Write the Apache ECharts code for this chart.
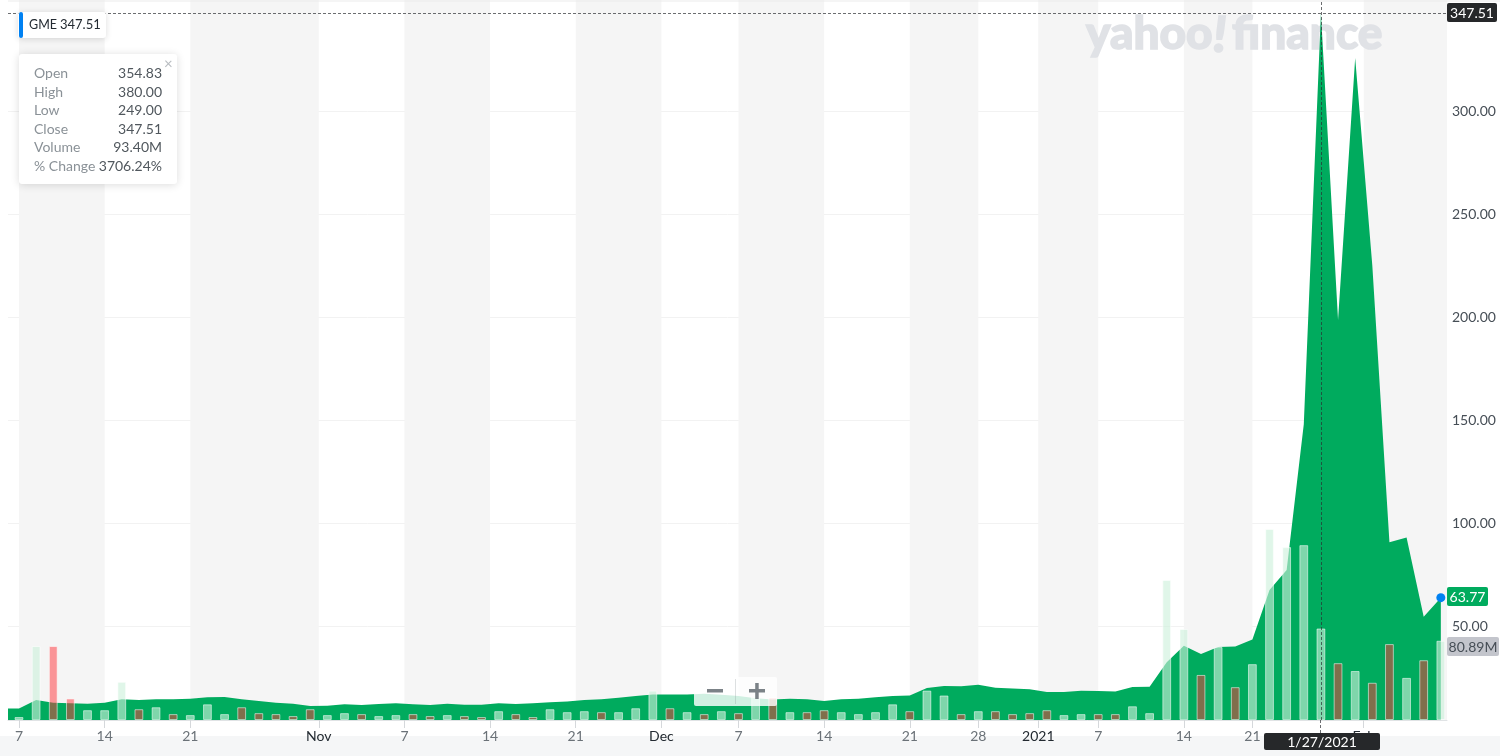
<!DOCTYPE html>
<html><head><meta charset="utf-8">
<style>html,body{margin:0;padding:0;background:#fff}#c{width:1500px;height:756px}</style>
<script src="https://cdn.jsdelivr.net/npm/echarts@6/dist/echarts.min.js"></script>
</head><body><div id="c"></div>
<script>
// Trading-day index 0 = 7 Oct 2020 ... 83 = 5 Feb 2021
const closePrices = [10.0,14.1,12.8,12.5,12.3,12.8,14.4,14.1,14.4,14.4,14.7,15.4,15.5,14.4,13.6,12.8,12.3,11.2,11.3,12,11.7,12.1,12.5,
 12,11.7,12.3,11.8,11.8,12.5,12.1,12.5,13,13.3,14.1,14.4,15.2,16,16.8,16.7,16.7,17.1,16.6,16,14.9,14.3,14.7,
 14.4,13.6,14.4,14.7,15.4,16,16.3,19.9,20.9,20.7,21.5,20,19.7,19.3,18,18,18.6,18.4,18.2,20.4,20.5,
 32.4,40.4,36.4,39.8,40,43.5,67.5,77.2,148,347.51,198.5,325.7,225,90.6,93,54.5,63.77];
const volumes = [3,75.5,75.5,22,10,10,39,11,13,6,5,16,6,13,7,6,4,11,5,7,6,4,5,
 6,4,5,4,3,9,6,3,11,8,9,8,8,12,30,12,8,6,9,7,25,23,8,
 8,10,8,6,8,16,9,30,25,6,9,9,6,7,10,5,6,6,6,14,7,
 143,93,46,74.5,33.5,57,195,176.5,178.5,93.4,58,50,38,77.5,43,61,80.89];
// 1 = close below the previous close (red), 0 = up (pale)
const downFlags = [0,0,1,1,0,0,0,1,0,1,0,0,0,1,1,1,1,1,0,0,1,0,0,
 1,1,0,1,1,0,1,1,0,0,0,1,0,0,0,1,0,1,0,1,0,1,0,
 1,1,0,0,0,0,1,0,0,1,0,1,1,1,1,0,0,1,1,0,0,
 0,0,1,0,1,0,0,0,0,0,1,0,1,1,0,1,0];
const tickPositions = [0,5,10,17.5,22.5,27.5,32.5,37.5,42,47,52,56,59.5,63,68,72,78.5];
const tickLabels = ['7','14','21','Nov','7','14','21','Dec','7','14','21','28','2021','7','14','21','Feb'];
const priceTicks = [50,100,150,200,250,300];

const FONT = 'Lato, "Open Sans", sans-serif';
const GREEN = '#00ab5e';
const xMin = -0.642, xMax = 83.36;
const labelByTick = new Map(tickPositions.map((p,i)=>[p,tickLabels[i]]));
const monthLabels = new Set(['Nov','Dec','2021','Feb']);

// alternating week/month shading between consecutive ticks, starting at the first tick
const bandEdges = [...tickPositions, xMax];
const bands = [];
for (let i = 0; i < bandEdges.length - 1; i += 2) bands.push([{xAxis: bandEdges[i]}, {xAxis: bandEdges[i+1]}]);

const areaData = [[xMin, closePrices[0]], ...closePrices.map((v,i)=>[i,v])];
const upBars = [], downBars = [];
volumes.forEach((v,i)=>{ (downFlags[i]?downBars:upBars).push([i,v]); });

const chart = echarts.init(document.getElementById('c'), null, {renderer:'canvas'});
const barStyleBase = {borderWidth:1, borderColor:'rgba(255,255,255,0.55)'};
const wm = {fontFamily:'Lato, sans-serif', fontWeight:900, fontSize:46, fill:'#e0e2e6', stroke:'#e0e2e6', lineWidth:1.5};
chart.setOption({
  animation:false,
  grid:{left:8, right:53, top:0, bottom:36, containLabel:false},
  xAxis:{type:'value', min:xMin, max:xMax, splitLine:{show:false},
    axisLine:{show:true, onZero:false, lineStyle:{color:'#e0e3e5', width:1}},
    axisTick:{show:true, customValues:tickPositions, length:8, lineStyle:{color:'#d5d8db'}},
    axisLabel:{show:true, customValues:tickPositions, margin:9, fontFamily:FONT, fontSize:14,
      formatter:v=>{const t=labelByTick.get(v)||''; return monthLabels.has(t)?'{m|'+t+'}':'{d|'+t+'}';},
      rich:{m:{color:'#232a31',fontFamily:FONT,fontSize:14},d:{color:'#6b7278',fontFamily:FONT,fontSize:14}}}},
  yAxis:[
   {type:'value', position:'right', min:4.37, max:353.9,
    axisLine:{show:true, lineStyle:{color:'#e0e3e5'}},
    axisTick:{show:true, customValues:priceTicks, length:4, lineStyle:{color:'#d5d8db'}},
    axisLabel:{show:true, customValues:priceTicks, margin:5, color:'#464e56', fontFamily:FONT, fontSize:14, padding:[2,0,0,0],
      formatter:v=>v.toFixed(2)},
    splitLine:{show:true, lineStyle:{color:'#f2f2f2', width:1}}},
   {type:'value', min:0, max:735, show:false, splitLine:{show:false}}
  ],
  series:[
   {type:'line', name:'Close', yAxisIndex:0, data:areaData, symbol:'none', z:3, clip:true, silent:true,
    lineStyle:{width:0}, areaStyle:{color:GREEN, opacity:1, origin:'start'},
    markArea:{silent:true, z:1, itemStyle:{color:'#f5f5f5'}, data:bands},
    markPoint:{silent:true, symbol:'circle', symbolSize:9, itemStyle:{color:'#0081f2'}, z:9, label:{show:false},
      data:[{coord:[83, closePrices[83]]}]},
    markLine:{silent:true, symbol:'none', z:8, label:{show:false},
      lineStyle:{color:'#2c2f33', type:[3,2], width:1, opacity:.7},
      data:[{yAxis:closePrices[76]},{xAxis:76}]}},
   {type:'bar', name:'Up volume', yAxisIndex:1, stack:'vol', data:upBars, barWidth:8.8, z:4, silent:true,
    itemStyle:{color:'rgba(205,240,220,0.62)', ...barStyleBase}},
   {type:'bar', name:'Down volume', yAxisIndex:1, stack:'vol', data:downBars, barWidth:8.8, z:4, silent:true,
    itemStyle:{color:'rgba(255,51,58,0.5)', ...barStyleBase}}
  ],
  graphic:[
   {type:'rect', z:-1, silent:true, shape:{x:0,y:736,width:1500,height:20}, style:{fill:'#f5f6f7'}},
   {type:'line', z:100, silent:true, shape:{x1:8,y1:1,x2:1500,y2:1}, style:{stroke:'#ebebeb',lineWidth:1}},
   {type:'text', z:2, silent:true, x:1086, y:11, style:{text:'yahoo', ...wm}},
   {type:'text', z:2, silent:true, x:1213, y:11, style:{text:'!', ...wm, fontStyle:'italic', fontSize:50}},
   {type:'text', z:2, silent:true, x:1232, y:11, style:{text:'finance', ...wm}},
   // legend chip
   {type:'rect', z:100, silent:true, shape:{x:18,y:12,width:88,height:26,r:3}, style:{fill:'#fff',shadowBlur:6,shadowColor:'rgba(0,0,0,0.14)',shadowOffsetY:1}},
   {type:'rect', z:101, silent:true, shape:{x:19,y:12,width:4,height:26,r:2}, style:{fill:'#0081f2'}},
   {type:'text', z:101, silent:true, x:29, y:18.5, style:{text:'GME',fontFamily:FONT,fontSize:12.5,fill:'#232a31'}},
   {type:'text', z:101, silent:true, x:60, y:18.5, style:{text:'347.51',fontFamily:FONT,fontSize:13,fill:'#232a31'}},
   // OHLC box
   {type:'rect', z:100, silent:true, shape:{x:19,y:54,width:158,height:130,r:3}, style:{fill:'#fff',shadowBlur:8,shadowColor:'rgba(0,0,0,0.14)',shadowOffsetY:1}},
   {type:'text', z:101, silent:true, x:164, y:57, style:{text:'×',fontFamily:FONT,fontSize:15,fill:'#b8bcc0'}},
   ...[['Open','354.83'],['High','380.00'],['Low','249.00'],['Close','347.51'],['Volume','93.40M'],['% Change','3706.24%']].flatMap((r,i)=>[
     {type:'text', z:101, silent:true, x:34, y:66.5+i*18.5, style:{text:r[0],fontFamily:FONT,fontSize:14,fill:'#8a9197'}},
     {type:'text', z:101, silent:true, x:162, y:66.5+i*18.5, style:{text:r[1],align:'right',fontFamily:FONT,fontSize:14,fill:'#50575d'}}
   ]),
   // zoom control
   {type:'rect', z:50, silent:true, shape:{x:694,y:677,width:83,height:29,r:2}, style:{fill:'rgba(255,255,255,0.82)'}},
   {type:'line', z:51, silent:true, shape:{x1:735.5,y1:679,x2:735.5,y2:704}, style:{stroke:'rgba(120,130,135,0.25)',lineWidth:1}},
   {type:'rect', z:51, silent:true, shape:{x:707,y:689,width:16,height:3.5}, style:{fill:'#7b8287'}},
   {type:'rect', z:51, silent:true, shape:{x:749,y:689,width:16,height:3.5}, style:{fill:'#7b8287'}},
   {type:'rect', z:51, silent:true, shape:{x:755.2,y:683,width:3.5,height:16}, style:{fill:'#7b8287'}},
   // axis pointer labels
   {type:'line', z:52, silent:true, shape:{x1:1320.5,y1:720,x2:1320.5,y2:733}, style:{stroke:'#2c2f33',lineDash:[3,2],lineWidth:1,opacity:.7}},
   {type:'rect', z:60, silent:true, shape:{x:1447,y:3,width:50,height:19,r:2}, style:{fill:'#26282a'}},
   {type:'text', z:61, silent:true, x:1472, y:13, style:{text:'347.51',align:'center',verticalAlign:'middle',fontFamily:FONT,fontSize:14,fill:'#fff'}},
   {type:'rect', z:60, silent:true, shape:{x:1264,y:733,width:116,height:17,r:2}, style:{fill:'#26282a'}},
   {type:'text', z:61, silent:true, x:1322, y:742, style:{text:'1/27/2021',align:'center',verticalAlign:'middle',fontFamily:FONT,fontSize:14,fill:'#fff'}},
   {type:'rect', z:60, silent:true, shape:{x:1447,y:587,width:41,height:19,r:2}, style:{fill:GREEN}},
   {type:'text', z:61, silent:true, x:1467.5, y:597, style:{text:'63.77',align:'center',verticalAlign:'middle',fontFamily:FONT,fontSize:14,fill:'#fff'}},
   {type:'rect', z:60, silent:true, shape:{x:1447,y:637,width:52,height:19,r:2}, style:{fill:'#c3c5cc'}},
   {type:'text', z:61, silent:true, x:1473, y:647, style:{text:'80.89M',align:'center',verticalAlign:'middle',fontFamily:FONT,fontSize:14,fill:'#464e56'}}
  ]
});
</script></body></html>
